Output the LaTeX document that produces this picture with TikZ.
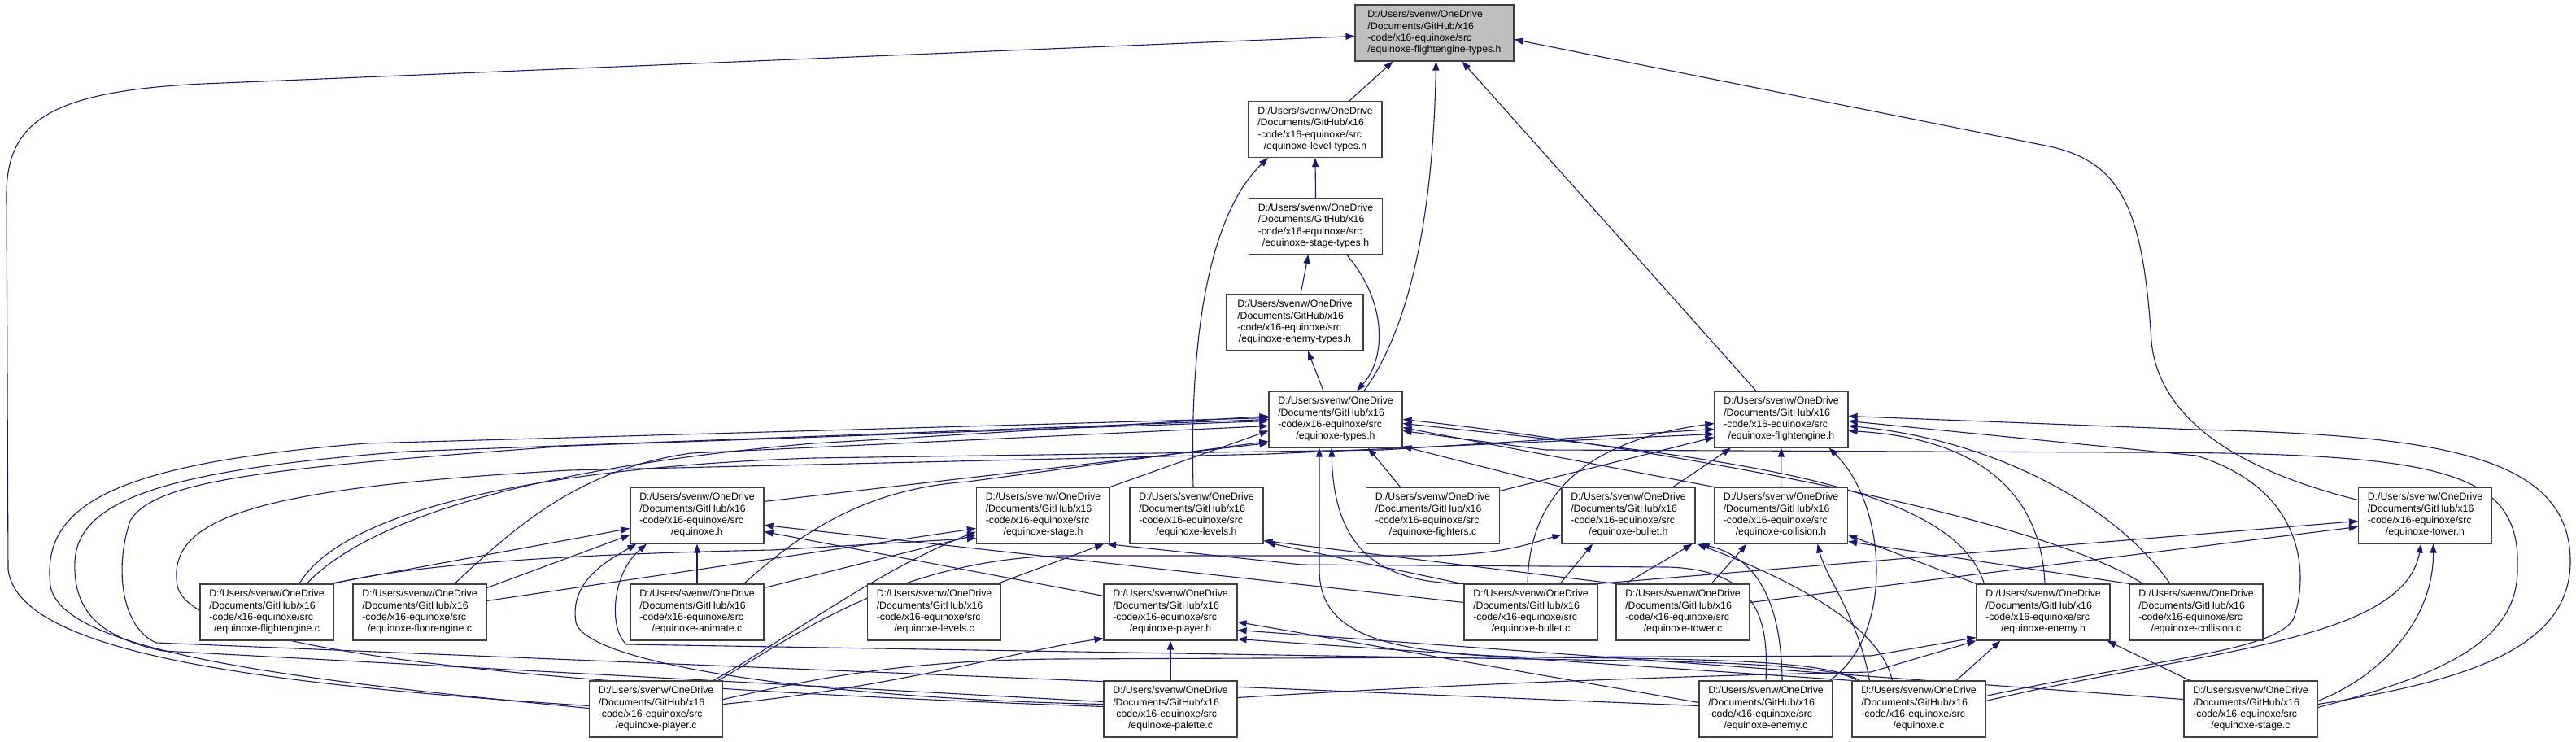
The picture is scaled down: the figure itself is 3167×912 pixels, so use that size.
\documentclass[tikz,border=0pt]{standalone}
\usepackage{fontspec}
\setmainfont{Liberation Sans}
\usetikzlibrary{arrows.meta,calc,backgrounds}
\definecolor{navy}{HTML}{191970}
\definecolor{boxc}{HTML}{404040}
\definecolor{topfill}{HTML}{BFBFBF}
\newcommand{\fpath}[1]{\begin{tabular}{@{}l@{}}D:/Users/svenw/OneDrive\\/Documents/GitHub/x16\\-code/x16-equinoxe/src\\\multicolumn{1}{@{}c@{}}{/#1}\end{tabular}}
\begin{document}
\begin{tikzpicture}[x=1pt,y=-1pt,
  box/.style={draw=boxc,fill=white,line width=1.2pt,minimum width=164pt,minimum height=69pt,inner sep=0pt,font=\fontsize{12.3}{14.4}\selectfont},
  e/.style={draw=navy,line width=1.1pt,-{Triangle[length=11pt,width=8pt]}}]
\useasboundingbox (0,0) rectangle (3167,912);
% nodes
\node[box,fill=topfill,minimum width=195pt] (t) at (1763.5,40.5) {\fpath{equinoxe-flightengine-types.h}};
\node[box] (lt) at (1617,159) {\fpath{equinoxe-level-types.h}};
\node[box] (st) at (1617.5,278) {\fpath{equinoxe-stage-types.h}};
\node[box,minimum width=168pt] (et) at (1592,396.5) {\fpath{equinoxe-enemy-types.h}};
\node[box] (ty) at (1642,515.5) {\fpath{equinoxe-types.h}};
\node[box] (fe) at (2190,515.5) {\fpath{equinoxe-flightengine.h}};
\node[box] (eh) at (857,633.5) {\fpath{equinoxe.h}};
\node[box] (sh) at (1282.5,633.5) {\fpath{equinoxe-stage.h}};
\node[box] (lh) at (1471,633.5) {\fpath{equinoxe-levels.h}};
\node[box] (fc) at (1761.5,633.5) {\fpath{equinoxe-fighters.c}};
\node[box] (bh) at (2002,633.5) {\fpath{equinoxe-bullet.h}};
\node[box] (ch) at (2189.5,633.5) {\fpath{equinoxe-collision.h}};
\node[box] (th) at (2981.5,633.5) {\fpath{equinoxe-tower.h}};
\node[box] (fec) at (328,752.5) {\fpath{equinoxe-flightengine.c}};
\node[box] (flc) at (516,752.5) {\fpath{equinoxe-floorengine.c}};
\node[box] (ac) at (857,752.5) {\fpath{equinoxe-animate.c}};
\node[box] (lc) at (1148.5,752.5) {\fpath{equinoxe-levels.c}};
\node[box] (ph) at (1439,752.5) {\fpath{equinoxe-player.h}};
\node[box] (bc) at (1882,752.5) {\fpath{equinoxe-bullet.c}};
\node[box] (tc) at (2069,752.5) {\fpath{equinoxe-tower.c}};
\node[box] (en) at (2512,752.5) {\fpath{equinoxe-enemy.h}};
\node[box] (cc) at (2700,752.5) {\fpath{equinoxe-collision.c}};
\node[box] (pc) at (806.5,871.5) {\fpath{equinoxe-player.c}};
\node[box] (pal) at (1439,871.5) {\fpath{equinoxe-palette.c}};
\node[box] (enc) at (2171,871.5) {\fpath{equinoxe-enemy.c}};
\node[box] (eqc) at (2359,871.5) {\fpath{equinoxe.c}};
\node[box] (sc) at (2767,871.5) {\fpath{equinoxe-stage.c}};
\begin{scope}[on background layer]
% top part
\draw[e] ($(lt.north)+(42,0)$) -- ($(t.south)+(-51,0)$);
\draw[e] ($(ty.north)+(35,0)$) .. controls (1735,400) and (1762,260) .. ($(t.south)+(2,0)$);
\draw[e] ($(fe.north)+(-31,0)$) -- ($(t.south)+(34,0)$);
\draw[e] ($(pc.west)+(0,-4)$) .. controls (300,840) and (22,800) .. (10,700) -- (8,240) .. controls (8,150) and (60,112) .. (250,103) -- ($(t.west)+(0,4)$);
\draw[e] ($(th.west)+(0,-19)$) .. controls (2760,580) and (2655,520) .. (2645,420) .. controls (2635,260) and (2610,200) .. (2520,180) -- ($(t.east)+(0,8)$);
\draw[e] (st.north) -- (lt.south);
\draw[e] ($(lh.north)+(-4,0)$) .. controls (1462,400) and (1490,260) .. ($(lt.south)+(-58,0)$);
\draw[e] ($(et.north)+(7,0)$) -- ($(st.south)+(-9,0)$);
\draw[e] ($(ty.north)+(-15,0)$) -- ($(et.south)+(16,0)$);
\draw[e] ($(st.south)+(38,0)$) .. controls (1705,370) and (1705,440) .. ($(ty.north)+(26,0)$);
% left arcs
\draw[e] ($(pc.west)+(0,-1)$) .. controls (350,835) and (75,800) .. (62,720) .. controls (50,620) and (140,570) .. (450,545) -- ($(ty.west)+(0,-2)$);
\draw[e] ($(pal.west)+(0,-9)$) -- (200,800) .. controls (115,782) and (90,745) .. (92,690) .. controls (96,615) and (200,578) .. (500,555) -- ($(ty.west)+(0,0)$);
\draw[e] ($(enc.west)+(0,-4)$) -- (192,790) .. controls (150,772) and (140,700) .. (160,640) .. controls (190,590) and (330,575) .. (700,548) -- ($(ty.west)+(0,2)$);
\draw[e] ($(pal.west)+(0,-3)$) .. controls (700,845) and (235,805) .. (218,720) .. controls (205,640) and (300,600) .. (700,578) -- (1560,558) -- ($(fe.west)+(0,18)$);
% flightengine.c
\draw[e] ($(fec.north)+(49,0)$) .. controls (450,640) and (650,575) .. (1000,545) -- ($(ty.west)+(0,-4)$);
\draw[e] ($(fec.north east)+(-5,0)$) -- ($(eh.west)+(0,16)$);
\draw[e] ($(fec.north east)+(-1,0)$) .. controls (520,690) and (750,680) .. (950,676) -- ($(sh.west)+(0,28)$);
\draw[e] ($(fec.north)+(40,0)$) .. controls (420,630) and (650,575) .. (1000,563) -- (1700,553) -- ($(fe.west)+(0,12)$);
% floorengine.c
\draw[e] ($(flc.north)+(43,0)$) .. controls (640,640) and (720,575) .. (850,557) -- ($(ty.west)+(0,8)$);
\draw[e] ($(flc.east)+(0,-30)$) -- ($(eh.west)+(0,24)$);
\draw[e] ($(flc.east)+(0,-14)$) -- ($(sh.west)+(0,16)$);
% animate.c
\draw[e] (ac.north) -- (eh.south);
\draw[e] ($(ac.east)+(0,-30)$) -- ($(sh.west)+(0,24)$);
\draw[e] ($(ac.north east)+(-25,0)$) .. controls (1000,640) and (1080,600) .. (1190,592) -- ($(ty.west)+(0,27)$);
% equinoxe.h, stage.h, levels.c
\draw[e] ($(eh.north east)+(0,18)$) -- ($(ty.west)+(0,29)$);
\draw[e] (sh.north east) -- ($(ty.west)+(0,14)$);
\draw[e] ($(lc.north east)+(-5,0)$) -- ($(sh.south east)+(-8,0)$);
% player.c
\draw[e] ($(pc.north east)+(-12,0)$) .. controls (960,790) and (1080,700) .. ($(sh.west)+(0,20)$);
\draw[e] ($(pc.north east)+(-6,0)$) .. controls (980,780) and (1100,690) .. (1300,683) -- (1750,683) .. controls (1850,683) and (1890,665) .. ($(bh.west)+(0,24)$);
\draw[e] ($(pc.east)+(0,-6)$) .. controls (1100,845) and (1250,800) .. ($(ph.south west)+(0,-3)$);
\draw[e] ($(pc.east)+(0,-12)$) .. controls (1000,835) and (1100,812) .. (1300,810) -- (2300,806) -- ($(en.south west)+(0,-4)$);
% palette.c
\draw[e] (pal.north) -- (ph.south);
\draw[e] ($(pal.west)+(0,-6)$) .. controls (1000,858) and (720,815) .. (708,765) .. controls (700,715) and (745,690) .. ($(eh.south west)+(8,0)$);
\draw[e] ($(pal.east)+(0,-14)$) .. controls (1800,840) and (2100,830) .. (2300,826) -- (en.south west);
% enemy.c
\draw[e] ($(enc.west)+(0,-8)$) -- ($(ph.east)+(0,12)$);
\draw[e] (enc.north) .. controls (2175,760) and (2160,700) .. (2050,697) -- (1600,694) -- ($(sh.south east)+(-4,0)$);
\draw[e] ($(enc.north)+(20,0)$) .. controls (2190,740) and (2160,685) .. ($(bh.south east)+(6,0)$);
\draw[e] ($(enc.north east)+(-4,0)$) .. controls (2330,780) and (2320,620) .. ($(fe.south east)+(-24,0)$);
% equinoxe.c
\draw[e] ($(eqc.north west)+(6,0)$) .. controls (2270,825) and (2200,815) .. (2000,812) -- (770,792) .. controls (748,772) and (752,705) .. ($(eh.south)+(-62,0)$);
\draw[e] ($(eqc.north west)+(10,0)$) .. controls (2250,815) and (2150,810) .. (1900,808) .. controls (1700,805) and (1622,780) .. (1622,700) -- ($(ty.south)+(-20,0)$);
\draw[e] (eqc.north west) -- ($(ph.east)+(0,33)$);
\draw[e] ($(eqc.north west)+(50,0)$) .. controls (2310,760) and (2170,700) .. ($(bh.south east)+(2,0)$);
\draw[e] ($(eqc.north west)+(22,0)$) .. controls (2285,760) and (2245,710) .. ($(ch.south)+(45,0)$);
\draw[e] ($(eqc.north)+(46,0)$) -- ($(en.south west)+(30,0)$);
\draw[e] ($(eqc.east)+(0,-10)$) .. controls (2700,800) and (2955,790) .. ($(th.south)+(-5,0)$);
\draw[e] ($(eqc.east)+(0,-16)$) .. controls (2650,810) and (2800,800) .. (2820,760) .. controls (2840,700) and (2830,600) .. (2700,560) -- ($(fe.east)+(0,2)$);
% stage.c
\draw[e] ($(sc.north west)+(8,0)$) -- ($(en.south east)+(-4,0)$);
\draw[e] ($(sc.east)+(0,-10)$) .. controls (2930,830) and (2992,760) .. ($(th.south)+(10,0)$);
\draw[e] ($(sc.east)+(0,-6)$) .. controls (3050,835) and (3160,790) .. (3160,690) .. controls (3160,560) and (3000,535) .. (2700,528) -- ($(fe.east)+(0,-4)$);
\draw[e] ($(sc.east)+(0,-2)$) .. controls (3000,830) and (3095,790) .. (3095,700) .. controls (3100,575) and (3000,556) .. (2600,556) -- (1900,553) -- ($(ty.east)+(0,14)$);
\draw[e] ($(sc.west)+(0,-12)$) -- ($(ph.east)+(0,22)$);
% tower.c
\draw[e] ($(tc.north)+(35,0)$) -- ($(ch.south)+(-42,0)$);
\draw[e] (tc.north west) -- ($(lh.south east)+(0,-4)$);
\draw[e] ($(tc.north west)+(12,0)$) -- ($(bh.south east)+(-4,0)$);
\draw[e] ($(tc.east)+(0,-12)$) -- ($(th.west)+(0,14)$);
% bullet.c
\draw[e] ($(bc.north)+(36,0)$) -- ($(bh.south)+(-44,0)$);
\draw[e] ($(bc.north west)+(16,0)$) .. controls (1700,720) and (1640,680) .. ($(ty.south)+(-5,0)$);
\draw[e] ($(bc.north)+(-4,0)$) .. controls (1880,600) and (1960,540) .. ($(fe.west)+(0,5)$);
\draw[e] ($(bc.west)+(0,-12)$) -- ($(eh.east)+(0,12)$);
\draw[e] ($(bc.north west)+(-2,0)$) -- ($(lh.south east)+(3,-2)$);
\draw[e] (bc.north east) -- ($(th.west)+(0,7)$);
% enemy.h
\draw[e] ($(en.north)+(2,0)$) .. controls (2510,620) and (2450,540) .. ($(fe.east)+(0,14)$);
\draw[e] (en.north west) -- ($(ch.east)+(0,24)$);
\draw[e] ($(en.north west)+(10,0)$) .. controls (2400,590) and (2100,560) .. ($(ty.east)+(0,5)$);
% collision.c
\draw[e] (cc.north west) -- ($(ch.south east)+(0,-3)$);
\draw[e] ($(cc.north west)+(17,0)$) .. controls (2500,630) and (2000,545) .. ($(ty.east)+(0,0)$);
\draw[e] ($(cc.north)+(-32,0)$) .. controls (2600,620) and (2450,540) .. ($(fe.east)+(0,8)$);
% bullet.h, collision.h, fighters.c, player.h
\draw[e] (bh.north west) -- ($(ty.south east)+(0,-2)$);
\draw[e] ($(bh.north)+(55,0)$) -- ($(fe.south)+(-62,0)$);
\draw[e] (ch.north west) -- ($(ty.east)+(0,10)$);
\draw[e] (ch.north) -- (fe.south);
\draw[e] ($(fc.north)+(-40,0)$) -- ($(ty.south)+(40,0)$);
\draw[e] ($(fc.north east)+(0,5)$) -- ($(fe.west)+(0,22)$);
\draw[e] ($(ph.north west)+(0,15)$) -- ($(eh.east)+(0,20)$);
\end{scope}
\end{tikzpicture}
\end{document}
